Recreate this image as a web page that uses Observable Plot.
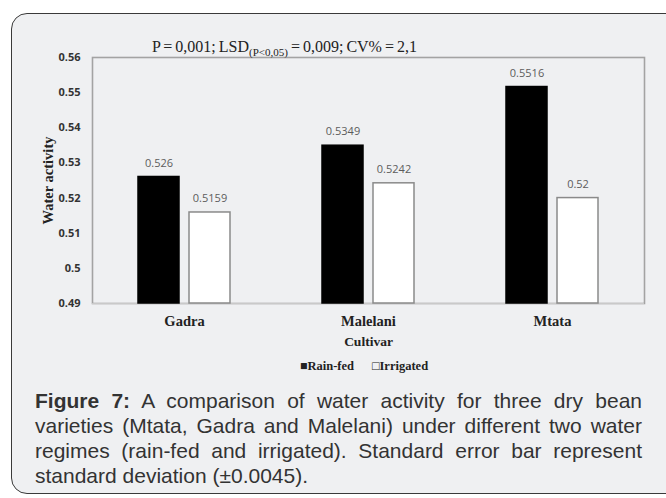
<!DOCTYPE html>
<html>
<head>
<meta charset="utf-8">
<script src="https://cdn.jsdelivr.net/npm/d3@7"></script>
<script src="https://cdn.jsdelivr.net/npm/@observablehq/plot@0.6"></script>
<style>
  html, body { margin: 0; padding: 0; background: #fff; }
  #stage { position: relative; width: 666px; height: 498px; overflow: hidden; background: #fff; }
  #panel { position: absolute; left: 11px; top: 13px; width: 720px; height: 481px;
           border: 1.5px solid #3a3a3a; border-radius: 16px; background: #eff0f2; box-sizing: border-box; }
  #chart { position: absolute; left: 0; top: 0; }
  #title { position: absolute; left: 152px; top: 39px; font-family: "Liberation Serif", serif; font-size: 16px;
           line-height: 16px; color: #222; white-space: nowrap; word-spacing: -1px; }
  #title sub { font-size: 11px; vertical-align: -4px; line-height: 0; }
  #legend { position: absolute; left: 0; width: 728px; top: 359px; text-align: center; font-family: "Liberation Serif", serif;
            font-weight: bold; font-size: 12.5px; color: #222; white-space: nowrap; }
  #legend span { margin: 0 9px; }
  #caption { position: absolute; left: 35px; width: 607px; top: 388px; font-family: "Liberation Sans", Arial, sans-serif;
             font-size: 21px; line-height: 25px; text-align: justify; color: #333; }
  g[aria-label="y-axis tick label"] text { font-family: "Open Sans", sans-serif; font-weight: bold; font-size: 11px; fill: #333; }
  g[aria-label="fx-axis tick label"] text { font-family: "Liberation Serif", serif; font-weight: bold; font-size: 14.5px; fill: #222; }
  g[aria-label="fx-axis label"] text { font-family: "Liberation Serif", serif; font-weight: bold; font-size: 13.5px; fill: #222; }
  g[aria-label="y-axis label"] text { font-family: "Liberation Serif", serif; font-weight: bold; font-size: 14.5px; fill: #222; }
  g[aria-label="text"] text { font-family: "Open Sans", sans-serif; font-size: 11px; }
</style>
</head>
<body>
<div id="stage">
  <div id="panel"></div>
  <div id="chart"></div>
  <div id="title">P = 0,001; LSD<sub>(P&lt;0,05)</sub> = 0,009; CV% = 2,1</div>
  <div id="legend"><span>■Rain-fed</span><span>□Irrigated</span></div>
  <div id="caption"><b>Figure 7:</b> A comparison of water activity for three dry bean varieties (Mtata, Gadra and Malelani) under different two water regimes (rain-fed and irrigated). Standard error bar represent standard deviation (±0.0045).</div>
</div>
<script>
const cultivars = ["Gadra", "Malelani", "Mtata"];
const regimes = ["Rain-fed", "Irrigated"];
const rainFed = [0.526, 0.5349, 0.5516];
const irrigated = [0.5159, 0.5242, 0.52];
const yTicks = [0.49, 0.5, 0.51, 0.52, 0.53, 0.54, 0.55, 0.56];
const yMin = 0.49, yMax = 0.56;

const data = cultivars.flatMap((c, i) => [
  {cultivar: c, regime: "Rain-fed", value: rainFed[i]},
  {cultivar: c, regime: "Irrigated", value: irrigated[i]}
]);

const chart = Plot.plot({
  width: 666,
  height: 380,
  marginLeft: 92,
  marginRight: 22,
  marginTop: 57,
  marginBottom: 77,
  style: {background: "transparent", overflow: "visible", fontFamily: "Open Sans, sans-serif"},
  fx: {domain: cultivars, padding: 0},
  x: {domain: regimes, paddingInner: 0.19, paddingOuter: 0.865, axis: null},
  y: {domain: [yMin, yMax], axis: null},
  color: {domain: regimes, range: ["#000000", "#ffffff"]},
  marks: [
    Plot.frame({facet: "super", stroke: "#a3a3a3", strokeWidth: 1.6}),
    Plot.ruleY([yMin], {stroke: "#c9c9c9", strokeWidth: 1.2}),
    Plot.barY(data, {
      fx: "cultivar", x: "regime", y1: yMin, y2: "value", fill: "regime",
      stroke: d => d.regime === "Rain-fed" ? "#000" : "#8a8a8a", strokeWidth: 1.5, inset: 0
    }),
    Plot.text(data, {
      fx: "cultivar", x: "regime", y: "value", text: d => String(d.value), dy: -14,
      fill: "#5c5c5c", fontSize: 11
    }),
    Plot.axisY({
      ticks: yTicks, tickSize: 0, tickPadding: 12, tickFormat: d => String(+d.toFixed(2)),
      label: "Water activity", labelAnchor: "center", labelOffset: 50, labelArrow: "none"
    }),
    Plot.axisFx({
      anchor: "bottom", tickSize: 0, tickPadding: 12, label: "Cultivar", labelAnchor: "center", labelOffset: 42, labelArrow: "none"
    })
  ]
});
document.getElementById("chart").appendChild(chart);
</script>
</body>
</html>
